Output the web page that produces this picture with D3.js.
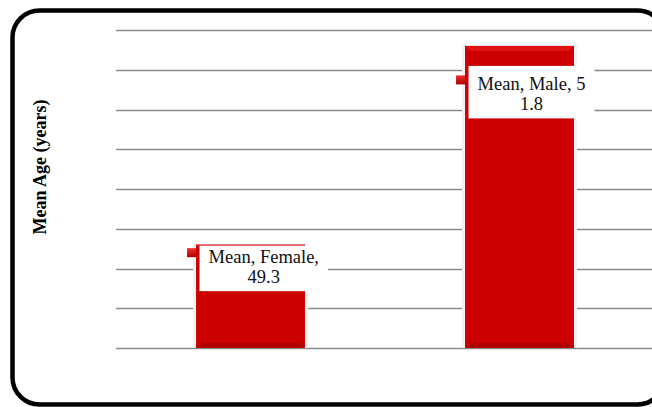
<!DOCTYPE html>
<html>
<head>
<meta charset="utf-8">
<script src="https://cdn.jsdelivr.net/npm/d3@7"></script>
<style>
  html, body { margin: 0; background: #fff; overflow: hidden; }
  svg { display: block; }
</style>
</head>
<body>
<div id="chart"></div>
<script>
// data
var categories = ["Female", "Male"];
var meanAge = [49.3, 51.8];
// data labels as they wrap in the original
var labelLines = [["Mean, Female,", "49.3"], ["Mean, Male, 5", "1.8"]];
var yDomain = [48, 52];
var yTicks = [48, 48.5, 49, 49.5, 50, 50.5, 51, 51.5, 52];

var W = 652, H = 407;
var plot = {left: 116, right: 654, top: 30, bottom: 348};

var svg = d3.select("#chart").append("svg")
    .attr("width", W)
    .attr("height", H);

var defs = svg.append("defs");
var mg = defs.append("linearGradient").attr("id", "mk")
    .attr("x1", 0).attr("y1", 0).attr("x2", 0).attr("y2", 1);
mg.append("stop").attr("offset", "0%").attr("stop-color", "#f03030");
mg.append("stop").attr("offset", "100%").attr("stop-color", "#b00000");

// frame (right edge runs off the picture)
svg.append("rect")
    .attr("x", 12.5).attr("y", 10.5)
    .attr("width", 652).attr("height", 394)
    .attr("rx", 27).attr("ry", 27)
    .attr("fill", "#fff")
    .attr("stroke", "#000")
    .attr("stroke-width", 4.5);

var x = d3.scaleBand()
    .domain(categories)
    .range([plot.left, plot.right])
    .paddingInner(0.595)
    .paddingOuter(0.2975);

var y = d3.scaleLinear()
    .domain(yDomain)
    .range([plot.bottom, plot.top]);

// gridlines
svg.append("g")
  .selectAll("line")
  .data(yTicks)
  .enter().append("line")
    .attr("x1", plot.left)
    .attr("x2", plot.right)
    .attr("y1", function(d) { return Math.round(y(d)) + 0.5; })
    .attr("y2", function(d) { return Math.round(y(d)) + 0.5; })
    .attr("stroke", "#8c8c8c")
    .attr("stroke-width", 1.6);

// axis title
svg.append("text")
    .attr("transform", "translate(46,167) rotate(-90)")
    .attr("text-anchor", "middle")
    .style("font-family", "'Liberation Serif', 'Times New Roman', serif")
    .style("font-weight", "bold")
    .style("font-size", "18px")
    .text("Mean Age (years)");

var bw = x.bandwidth();
var bars = svg.append("g")
  .selectAll("g")
  .data(meanAge)
  .enter().append("g");

// soft halo
bars.append("rect")
    .attr("x", function(d, i) { return x(categories[i]) - 3; })
    .attr("y", function(d) { return y(d) - 1; })
    .attr("width", bw + 6)
    .attr("height", function(d) { return plot.bottom - y(d) + 1; })
    .attr("fill", "#eef2f6");

bars.append("rect")
    .attr("x", function(d, i) { return x(categories[i]); })
    .attr("y", function(d) { return y(d); })
    .attr("width", bw)
    .attr("height", function(d) { return plot.bottom - y(d); })
    .attr("fill", "#cc0000");

// top bevel
bars.append("path")
    .attr("d", function(d, i) {
      var x0 = x(categories[i]), x1 = x0 + bw, t = y(d), b = 5;
      return "M" + x0 + "," + t + "L" + x1 + "," + t + "L" + (x1 - b) + "," + (t + b) + "L" + (x0 + b) + "," + (t + b) + "Z";
    })
    .attr("fill", "#e01212");

// bottom bevel
bars.append("path")
    .attr("d", function(d, i) {
      var x0 = x(categories[i]), x1 = x0 + bw, t = plot.bottom, b = 5;
      return "M" + x0 + "," + t + "L" + x1 + "," + t + "L" + (x1 - b) + "," + (t - b) + "L" + (x0 + b) + "," + (t - b) + "Z";
    })
    .attr("fill", "#b00000");

// data labels
var labelDy = [1, 20];
var labels = svg.append("g")
  .selectAll("g")
  .data(meanAge)
  .enter().append("g");

labels.each(function(d, i) {
  var g = d3.select(this);
  var bx = x(categories[i]) + 3.5;
  var by = y(d) + labelDy[i];
  var txt = g.append("text")
      .style("font-family", "'Liberation Serif', 'Times New Roman', serif")
      .style("font-size", "18.5px")
      .attr("fill", "#111")
      .attr("text-anchor", "middle");
  var padTop = i === 0 ? 17 : 24;
  labelLines[i].forEach(function(line, k) {
    txt.append("tspan")
      .attr("x", 0)
      .attr("y", by + padTop + k * 20.5)
      .text(line);
  });
  var tw = txt.node().getBBox().width;
  var boxW = tw + 18;
  var boxH = padTop + 20.5 + 8;
  txt.selectAll("tspan").attr("x", bx + boxW / 2);
  g.insert("rect", "text")
      .attr("x", bx).attr("y", by)
      .attr("width", boxW).attr("height", boxH)
      .attr("fill", "#fff");
  // legend key
  g.append("rect")
      .attr("x", bx - 12.5).attr("y", by + padTop - 14.5)
      .attr("width", 9).attr("height", 9)
      .attr("fill", "url(#mk)");
});
</script>
</body>
</html>
